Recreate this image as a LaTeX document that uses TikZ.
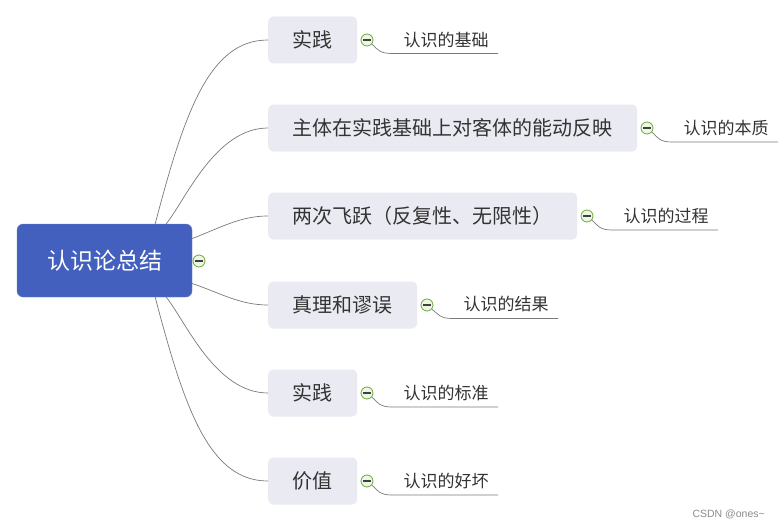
\documentclass[tikz,border=0pt]{standalone}
\usepackage{fontspec}
\setmainfont{Noto Sans CJK SC}
\newfontfamily\wmfont{Liberation Sans}
\definecolor{rootblue}{HTML}{4360BE}
\definecolor{childbg}{HTML}{EAEAF3}
\definecolor{txt}{HTML}{333333}
\definecolor{linegray}{HTML}{7A7A7A}
\definecolor{btngreen}{HTML}{6AAA3A}
\definecolor{btnfill}{HTML}{EEF6E6}
\tikzset{
  rootbox/.style={fill=rootblue, draw=rootblue!80!white, rounded corners=6pt, text=white,
    font=\fontsize{23}{23}\selectfont, minimum width=175pt, minimum height=73pt, inner sep=0pt},
  childbox/.style={fill=childbg, rounded corners=5pt, text=txt, font=\fontsize{20}{20}\selectfont,
    minimum height=47pt, inner sep=0pt, anchor=west},
  lbl/.style={text=txt, font=\fontsize{17}{17}\selectfont, inner sep=0pt},
  conn/.style={draw=linegray, line width=0.7pt},
  btn/.style={circle, draw=btngreen, fill=btnfill, line width=0.8pt, minimum size=12pt, inner sep=0pt,
    path picture={\draw[line width=1.1pt, draw=black!75] ([xshift=-3.6pt]path picture bounding box.center) -- ([xshift=3.6pt]path picture bounding box.center);}},
}
\begin{document}
\begin{tikzpicture}[x=1pt, y=-1pt]
\useasboundingbox[fill=white] (0,0) rectangle (779,527);

\node[rootbox] (root) at (104.5,260.5) {认识论总结};
\node[btn] (rb) at (199,261) {};

\node[childbox, minimum width=89pt] (c1) at (268,40) {实践};
\node[childbox, minimum width=369pt] (c2) at (268,128) {主体在实践基础上对客体的能动反映};
\node[childbox, minimum width=309pt] (c3) at (268,216) {两次飞跃（反复性、无限性）};
\node[childbox, minimum width=149pt] (c4) at (268,305) {真理和谬误};
\node[childbox, minimum width=89pt] (c5) at (268,393) {实践};
\node[childbox, minimum width=89pt] (c6) at (268,481) {价值};

% connectors root -> children
\draw[conn] ([xshift=-37pt]root.north east) .. controls (185,110) and (210,40) .. (c1.west);
\draw[conn] ([xshift=-26pt]root.north east) .. controls (185,201) and (215,128) .. (c2.west);
\draw[conn] ([yshift=22pt]root.east) .. controls (220,228) and (240,216) .. (c3.west);
\draw[conn] ([yshift=-23pt]root.east) .. controls (220,293) and (240,305) .. (c4.west);
\draw[conn] ([xshift=-26pt]root.south east) .. controls (185,320) and (215,393) .. (c5.west);
\draw[conn] ([xshift=-37pt]root.south east) .. controls (185,411) and (210,481) .. (c6.west);

% buttons, labels, underlines
\node[btn] (b1) at (367,40) {};
\node[lbl] (l1) at (446,40) {认识的基础};
\coordinate (u1) at (498,53.5);
\draw[conn] (b1.-40) .. controls (378,50) and (380,53.5) .. (392,53.5) -- (u1);

\node[btn] (b2) at (647,128) {};
\node[lbl] (l2) at (726,128) {认识的本质};
\coordinate (u2) at (778,142);
\draw[conn] (b2.-40) .. controls (658,138) and (660,142) .. (672,142) -- (u2);

\node[btn] (b3) at (587,216) {};
\node[lbl] (l3) at (666,216) {认识的过程};
\coordinate (u3) at (718,230);
\draw[conn] (b3.-40) .. controls (598,226) and (600,230) .. (612,230) -- (u3);

\node[btn] (b4) at (427,305) {};
\node[lbl] (l4) at (506,304) {认识的结果};
\coordinate (u4) at (558,318.5);
\draw[conn] (b4.-40) .. controls (438,314) and (440,318.5) .. (452,318.5) -- (u4);

\node[btn] (b5) at (367,393) {};
\node[lbl] (l5) at (446,393) {认识的标准};
\coordinate (u5) at (498,407);
\draw[conn] (b5.-40) .. controls (378,403) and (380,407) .. (392,407) -- (u5);

\node[btn] (b6) at (367,481) {};
\node[lbl] (l6) at (446,481) {认识的好坏};
\coordinate (u6) at (498,495);
\draw[conn] (b6.-40) .. controls (378,491) and (380,495) .. (392,495) -- (u6);

\node[text=black!45, font=\wmfont\fontsize{10.5}{11}\selectfont, anchor=east, inner sep=0pt] (wm) at (765,514) {CSDN @ones\textasciitilde};
\end{tikzpicture}
\end{document}
